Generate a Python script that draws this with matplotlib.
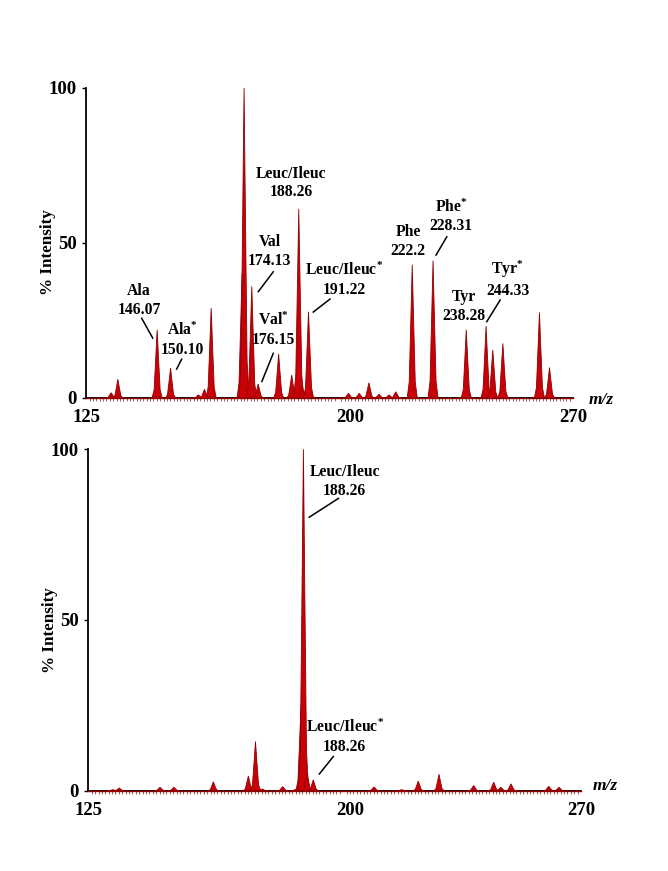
"""Two stacked mass spectra (% intensity vs m/z) with amino-acid peak labels."""

import matplotlib

matplotlib.use("Agg")
import matplotlib.pyplot as plt  # noqa: E402
from matplotlib.ticker import MultipleLocator  # noqa: E402
from matplotlib.transforms import ScaledTranslation  # noqa: E402

# ---- data -----------------------------------------------------------------
TOP_MZ = [132.4, 134.4, 146.1, 150.1, 158.4, 160.2, 162.2, 171.4, 172.0, 174.3,
          176.2, 182.3, 186.2, 188.3, 189.3, 191.2, 203.1, 206.3, 209.2, 212.2,
          215.2, 217.2, 222.1, 228.3, 238.2, 244.1, 246.1, 249.1, 260.0, 263.0]
TOP_INT = [1.7, 6.0, 22.0, 9.6, 1.0, 2.8, 29.0, 40.0, 100.0, 36.0,
           4.5, 14.2, 7.4, 61.0, 4.0, 27.8, 1.5, 1.5, 4.9, 1.2,
           1.0, 2.0, 43.0, 44.3, 22.0, 23.2, 15.5, 17.6, 27.6, 9.8]

BOT_MZ = [132.2, 134.1, 146.1, 150.2, 161.8, 172.1, 174.2, 176.2, 182.2, 186.1,
          187.6, 188.3, 189.4, 191.2, 209.1, 217.2, 222.1, 228.2, 238.4, 244.3,
          246.4, 249.4, 260.5, 263.5]
BOT_INT = [0.3, 0.8, 1.0, 1.0, 2.6, 4.3, 14.4, 0.5, 1.2, 0.4,
           25.0, 100.0, 5.0, 3.2, 1.1, 0.3, 2.8, 4.8, 1.5, 2.5,
           1.0, 2.0, 1.3, 1.0]

# labels: text, text centre (mz, %), leader line start/end (or None)
TOP_LABELS = [
    ("Ala\n146.07", (140.7, 31.5), ((141.5, 25.7), (144.8, 19.3))),
    ("Ala$^{*}$\n150.10", (153.7, 18.7), ((153.4, 12.5), (151.9, 9.3))),
    ("Val\n174.13", (179.7, 47.2), ((180.7, 40.7), (176.25, 34.3))),
    ("Val$^{*}$\n176.15", (180.7, 21.9), ((180.7, 14.4), (177.3, 5.3))),
    ("Leuc/Ileuc\n188.26", (186.0, 69.4), None),
    ("Leuc/Ileuc$^{*}$\n191.22", (201.8, 38.1), ((197.6, 31.9), (192.6, 27.7))),
    ("Phe\n222.2", (220.9, 50.4), None),
    ("Phe$^{*}$\n228.31", (233.7, 58.6), ((232.4, 52.0), (229.2, 46.1))),
    ("Tyr\n238.28", (237.4, 29.5), None),
    ("Tyr$^{*}$\n244.33", (250.5, 38.4), ((248.3, 31.6), (244.3, 24.6))),
]
BOT_LABELS = [
    ("Leuc/Ileuc\n188.26", (200.5, 90.5), ((198.6, 85.6), (190.0, 80.1))),
    ("Leuc/Ileuc$^{*}$\n188.26", (200.5, 15.8), ((197.1, 10.0), (193.0, 4.9))),
]

XTICKS = [125, 200, 270]
YTICKS = [0, 50, 100]

# ---- style ----------------------------------------------------------------
FILL = "#c80008"
EDGE = "#900000"
SERIF = "Liberation Serif"
# peak profile (offset in m/z, fraction of height)
PEAK_DX = [-1.5, -0.9, -0.45, 0.0, 0.45, 0.9, 1.5]
PEAK_FR = [0.0, 0.12, 0.55, 1.0, 0.55, 0.12, 0.0]

plt.rcParams["font.family"] = SERIF
plt.rcParams["font.weight"] = "bold"
plt.rcParams["mathtext.fontset"] = "custom"
plt.rcParams["mathtext.rm"] = "Liberation Serif:bold"
plt.rcParams["mathtext.it"] = "Liberation Serif:bold:italic"
plt.rcParams["mathtext.bf"] = "Liberation Serif:bold"


def draw_panel(fig, rect, mzs, ints, labels, nudge_200, mz_pos, ylab_x):
    ax = fig.add_axes(rect)
    ax.set_xlim(125, 270)
    ax.set_ylim(0, 100)
    ax.plot([125, 270], [0, 0], color=EDGE, lw=1.0, zorder=3, clip_on=False)
    for mz, h in zip(mzs, ints):
        xs = [mz + d for d in PEAK_DX]
        ys = [h * f for f in PEAK_FR]
        ax.fill(xs, ys, facecolor=FILL, edgecolor=EDGE, lw=0.6, zorder=4,
                clip_on=False)

    for txt, (tx, ty), leader in labels:
        ax.text(tx, ty, txt, ha="center", va="center", fontsize=11.3,
                fontweight="bold", linespacing=1.22, zorder=6)
        if leader is not None:
            (x0, y0), (x1, y1) = leader
            ax.plot([x0, x1], [y0, y1], color="black", lw=1.1, zorder=6)

    for side in ("top", "right"):
        ax.spines[side].set_visible(False)
    for side in ("left", "bottom"):
        ax.spines[side].set_linewidth(1.3)
        ax.spines[side].set_color("black")

    ax.set_yticks(YTICKS)
    ax.set_yticklabels([str(v) for v in YTICKS])
    ax.set_xticks(XTICKS)
    ax.set_xticklabels([str(v) for v in XTICKS])
    ax.tick_params(axis="y", length=3, width=1, pad=4, labelsize=13.5)
    ax.tick_params(axis="x", which="major", length=0, pad=8, labelsize=13.5)
    ax.xaxis.set_minor_locator(MultipleLocator(1))
    ax.tick_params(axis="x", which="minor", length=2, width=0.5, colors="#6a2020")
    for lab in ax.get_xticklabels() + ax.get_yticklabels():
        lab.set_fontweight("bold")

    # the "200" label sits a little right of its true position in the source
    for loc, tick in zip(ax.get_xticks(), ax.xaxis.get_major_ticks()):
        if loc == 200:
            tick.label1.set_transform(
                tick.label1.get_transform()
                + ScaledTranslation(nudge_200 / 100, 0, fig.dpi_scale_trans))

    ax.set_ylabel("% Intensity", fontsize=12.3, fontweight="bold")
    ax.yaxis.set_label_coords(ylab_x, 0.47)
    ax.text(mz_pos[0], mz_pos[1], "m/z", transform=ax.transAxes, ha="center",
            va="center", fontsize=12.5, fontweight="bold", fontstyle="italic")
    return ax


fig = plt.figure(figsize=(6.68, 8.71), dpi=100)
draw_panel(fig, [0.1292, 0.5431, 0.7286, 0.3559], TOP_MZ, TOP_INT, TOP_LABELS,
           nudge_200=12, mz_pos=(1.057, -0.006), ylab_x=-0.062)
draw_panel(fig, [0.1322, 0.0922, 0.7376, 0.3920], BOT_MZ, BOT_INT, BOT_LABELS,
           nudge_200=7, mz_pos=(1.049, 0.014), ylab_x=-0.0615)
fig.savefig("out.png", dpi=100)
